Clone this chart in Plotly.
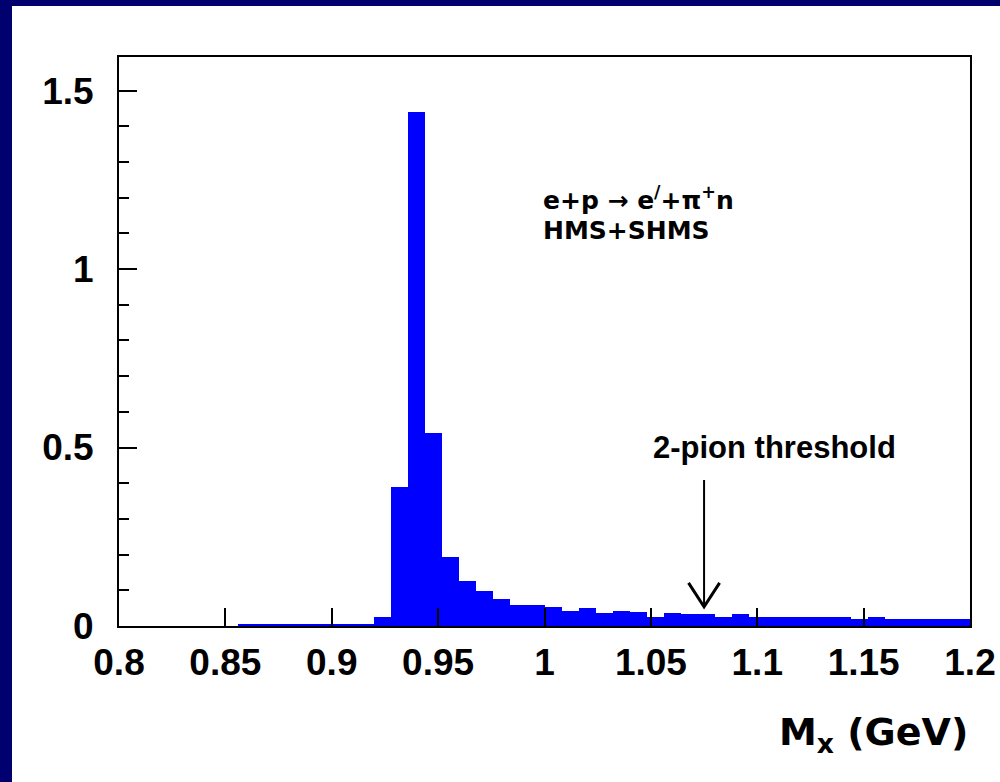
import plotly.graph_objects as go

# ---------------- data ----------------
bin_lo = 0.8
bin_width = 0.008
# 50 bins from 0.8 to 1.2
counts = [
    0, 0, 0, 0, 0, 0, 0,                      # 0.800 - 0.856
    0.005, 0.005, 0.005, 0.006, 0.006, 0.006, 0.007, 0.007,  # 0.856 - 0.920
    0.026, 0.390, 1.439, 0.542, 0.194, 0.126, 0.098, 0.075,  # 0.920 - 0.984
    0.060, 0.060, 0.054, 0.043, 0.050, 0.036, 0.043, 0.038,  # 0.984 - 1.048
    0.026, 0.037, 0.034, 0.034, 0.026, 0.034, 0.024, 0.024,  # 1.048 - 1.112
    0.024, 0.024, 0.024, 0.026, 0.020, 0.026, 0.020, 0.020,  # 1.112 - 1.176
    0.020, 0.020, 0.020,                                     # 1.176 - 1.200
]
centers = [bin_lo + bin_width * (i + 0.5) for i in range(len(counts))]

x_tickvals = [0.8, 0.85, 0.9, 0.95, 1.0, 1.05, 1.1, 1.15, 1.2]
x_ticktext = ["0.8", "0.85", "0.9", "0.95", "1", "1.05", "1.1", "1.15", "1.2"]
y_tickvals = [0, 0.5, 1, 1.5]
y_ticktext = ["0", "0.5", "1", "1.5"]

threshold_x = 1.075
arrow_top = 0.409
arrow_tip = 0.054
head_dx = 0.0073
head_dy = 0.067

NAVY = "#00006e"
BLUE = "#0000ff"
FONT = "Liberation Sans, Arial, sans-serif"

fig = go.Figure()
fig.add_trace(go.Bar(
    x=centers, y=counts, width=bin_width,
    marker=dict(color=BLUE, line=dict(width=0)),
    showlegend=False, hoverinfo="x+y",
))
# arrow head (open V)
fig.add_trace(go.Scatter(
    x=[threshold_x - head_dx, threshold_x, threshold_x + head_dx],
    y=[arrow_tip + head_dy, arrow_tip, arrow_tip + head_dy],
    mode="lines", line=dict(color="black", width=3),
    showlegend=False, hoverinfo="skip",
))

L, R, T, B = 119, 30, 57, 156
W, H = 1000, 782
pw, ph = W - L - R, H - T - B

fig.update_layout(
    width=W, height=H,
    margin=dict(l=L, r=R, t=T, b=B),
    paper_bgcolor="white", plot_bgcolor="white",
    bargap=0,
    shapes=[
        # navy frame strips (left and top)
        dict(type="rect", xref="paper", yref="paper", layer="below",
             x0=-0.3, x1=(12 - L) / pw, y0=-0.4, y1=1.2,
             fillcolor=NAVY, line=dict(width=0)),
        dict(type="rect", xref="paper", yref="paper", layer="below",
             x0=-0.3, x1=1.2, y0=(ph + T - 6) / ph, y1=1.2,
             fillcolor=NAVY, line=dict(width=0)),
        dict(type="line", xref="x", yref="y",
             x0=threshold_x, x1=threshold_x, y0=arrow_top, y1=arrow_tip,
             line=dict(color="black", width=2)),
    ],
    xaxis=dict(
        range=[0.8, 1.2], tickvals=x_tickvals, ticktext=x_ticktext,
        ticks="inside", ticklen=18, tickwidth=2, tickcolor="black",
        showline=True, linecolor="black", linewidth=2, mirror=True,
        showgrid=False, zeroline=False, automargin=False,
        tickfont=dict(family=FONT, size=37, color="black", weight="bold"),
        ticklabelstandoff=3,
    ),
    yaxis=dict(
        range=[0, 1.594], tickvals=y_tickvals, ticktext=y_ticktext,
        ticks="inside", ticklen=18, tickwidth=2, tickcolor="black",
        minor=dict(dtick=0.1, ticks="inside", ticklen=10, tickwidth=2, tickcolor="black"),
        showline=True, linecolor="black", linewidth=2, mirror=True,
        showgrid=False, zeroline=False, automargin=False,
        tickfont=dict(family=FONT, size=37, color="black", weight="bold"),
        ticklabelstandoff=16,
    ),
    annotations=[
        dict(xref="x", yref="y", x=0.9985, y=1.198, xanchor="left", yanchor="middle",
             text="e+p \u2192 e<sup>/</sup>+\u03c0<sup>+</sup>n", showarrow=False,
             font=dict(family="DejaVu Sans", size=25, color="black", weight="bold")),
        dict(xref="x", yref="y", x=0.9985, y=1.108, xanchor="left", yanchor="middle",
             text="HMS+SHMS", showarrow=False,
             font=dict(family="DejaVu Sans", size=25, color="black", weight="bold")),
        dict(xref="x", yref="y", x=1.05, y=0.5, xanchor="left", yanchor="middle",
             text="2-pion threshold", showarrow=False,
             font=dict(family=FONT, size=31, color="black", weight="bold")),
        dict(xref="paper", yref="paper", x=1.0, y=-(734 - (T + ph)) / ph,
             xanchor="right", yanchor="middle",
             text="M<sub>x</sub> (GeV)", showarrow=False,
             font=dict(family="DejaVu Sans", size=38, color="black", weight="bold")),
    ],
)

fig.write_html("out.html")
